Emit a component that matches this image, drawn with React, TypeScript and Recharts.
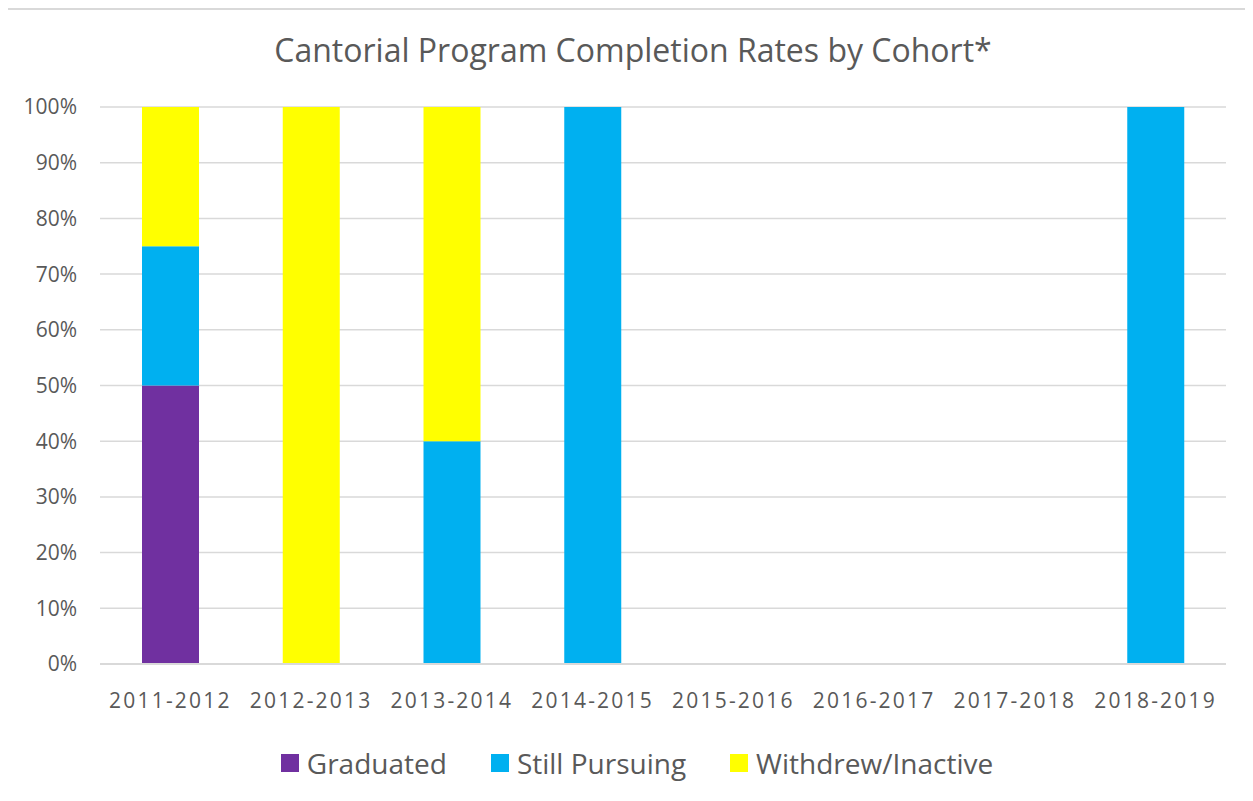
import React from "react";
import { BarChart, Bar, XAxis, YAxis, CartesianGrid, Legend } from "recharts";

const cohorts = [
  "2011-2012",
  "2012-2013",
  "2013-2014",
  "2014-2015",
  "2015-2016",
  "2016-2017",
  "2017-2018",
  "2018-2019",
];
const graduated = [50, 0, 0, 0, 0, 0, 0, 0];
const stillPursuing = [25, 0, 40, 100, 0, 0, 0, 100];
const withdrew = [25, 100, 60, 0, 0, 0, 0, 0];
const yTicks = [0, 10, 20, 30, 40, 50, 60, 70, 80, 90, 100];

const series = [
  { key: "graduated", name: "Graduated", color: "#7030A0" },
  { key: "still", name: "Still Pursuing", color: "#00B0F0" },
  { key: "withdrew", name: "Withdrew/Inactive", color: "#FFFF00" },
];

const data = cohorts.map((c, i) => ({
  cohort: c,
  graduated: graduated[i],
  still: stillPursuing[i],
  withdrew: withdrew[i],
}));

const FONT = '"Open Sans", sans-serif';
const TEXT = "#595959";

function LegendBox() {
  return (
    <div
      style={{
        height: 50,
        marginLeft: 40,
        display: "flex",
        justifyContent: "center",
        alignItems: "center",
        fontFamily: FONT,
        fontSize: 28,
        color: TEXT,
      }}
    >
      {series.map((s) => (
        <div key={s.key} style={{ display: "flex", alignItems: "center", margin: "0 22px" }}>
          <span style={{ width: 18, height: 18, background: s.color, marginRight: 8 }} />
          <span>{s.name}</span>
        </div>
      ))}
    </div>
  );
}

export default function App() {
  return (
    <div
      style={{
        position: "relative",
        marginLeft: -2,
        width: 1262,
        height: 805,
        border: "2px solid #d9d9d9",
        boxSizing: "border-box",
        background: "#fff",
      }}
    >
      <div
        style={{
          position: "absolute",
          top: 18,
          left: 0,
          width: 1250,
          textAlign: "center",
          fontFamily: FONT,
          fontSize: 32,
          color: TEXT,
        }}
      >
        Cantorial Program Completion Rates by Cohort*
      </div>
      <BarChart
        width={1250}
        height={790}
        data={data}
        margin={{ top: 97, right: 32, left: 0, bottom: 26 }}
      >
        <CartesianGrid vertical={false} stroke="#d9d9d9" strokeWidth={1.5} />
        <XAxis
          dataKey="cohort"
          height={60}
          axisLine={{ stroke: "#d9d9d9", strokeWidth: 2 }}
          tickLine={false}
          tickSize={0}
          tickMargin={29}
          tick={{ fill: TEXT, fontSize: 21, fontFamily: FONT, letterSpacing: 2.2 }}
        />
        <YAxis
          width={92}
          domain={[0, 100]}
          ticks={yTicks}
          tickFormatter={(v) => `${v}%`}
          axisLine={false}
          tickLine={false}
          tickSize={0}
          tickMargin={23}
          tick={{ fill: TEXT, fontSize: 21, fontFamily: FONT }}
        />
        <Legend verticalAlign="bottom" content={() => <LegendBox />} wrapperStyle={{ bottom: 12 }} />
        {series.map((s) => (
          <Bar
            key={s.key}
            dataKey={s.key}
            name={s.name}
            stackId="a"
            fill={s.color}
            barSize={57}
            isAnimationActive={false}
          />
        ))}
      </BarChart>
    </div>
  );
}
